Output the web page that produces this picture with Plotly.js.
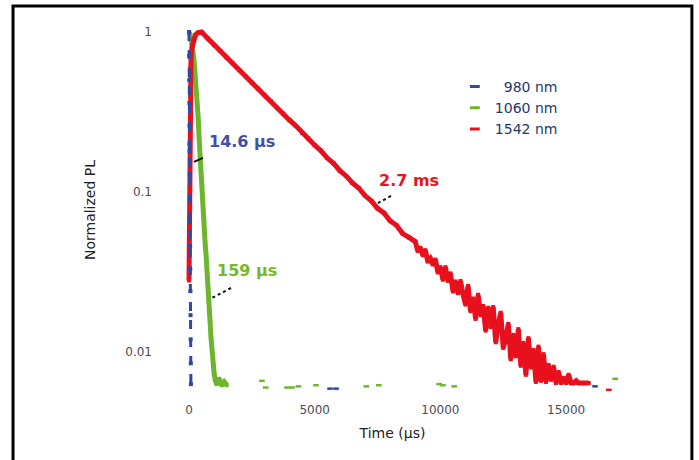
<!DOCTYPE html>
<html>
<head>
<meta charset="utf-8">
<script src="https://cdn.plot.ly/plotly-3.0.1.min.js"></script>
<style>
  html, body { margin: 0; padding: 0; background: #fff; }
  #pl-decay { width: 699px; height: 460px; }
</style>
</head>
<body>
<div id="pl-decay"></div>
<script>
// PL decay curves, time in microseconds, intensity normalized
var seriesNames = ['\u2007980 nm', '1060 nm', '1542 nm'];
var seriesColors = ['#3047a3', '#6cb52d', '#e8101c'];

var blueT = [0, 5, 10, 15, 20, 25, 30, 35, 40, 45, 50, 55, 60, 65, 70, 75];
var blueV = [1, 0.71, 0.5, 0.36, 0.26, 0.18, 0.13, 0.092, 0.065, 0.046, 0.033, 0.024, 0.017, 0.012, 0.0085, 0.0063];
var blueFloorT = [5610, 5850, 16150];
var blueFloorV = [0.0059, 0.0059, 0.0061];

var greenT = [0, 40, 80, 120, 160, 200, 240, 280, 320, 360, 400, 440, 480, 520, 560, 600, 640, 680,
  720, 760, 800, 840, 880, 920, 960, 1000, 1050, 1100, 1200, 1300, 1400, 1500];
var greenV = [1.0, 0.97, 0.9, 0.84, 0.75, 0.66, 0.56, 0.46, 0.37, 0.3, 0.22, 0.16, 0.125, 0.096, 0.08, 0.066, 0.048, 0.04,
  0.029, 0.025, 0.018, 0.016, 0.012, 0.0102, 0.0082, 0.0073, 0.0066, 0.0063, 0.0068, 0.0062, 0.0065, 0.0062];
var greenFloorT = [2900, 3050, 3900, 4100, 4350, 5050, 7050, 7550, 9950, 10100, 10550, 15150, 16950];
var greenFloorV = [0.0066, 0.006, 0.006, 0.006, 0.0061, 0.0062, 0.0061, 0.0062, 0.0063, 0.0062, 0.0061, 0.0064, 0.0068];

var redT = [0, 20, 40, 60, 80, 120, 180, 260, 350, 450,
  500, 750, 1000, 1250, 1500, 1750, 2000, 2250, 2500, 2750, 3000, 3250, 3500, 3750, 4000, 4250, 4500, 4750,
  5000, 5250, 5500, 5750, 6000, 6250, 6500, 6750, 7000, 7250, 7500, 7750, 8000, 8250, 8500, 8750,
  9000, 9100, 9200, 9300, 9400, 9500, 9600, 9700, 9800, 9900,
  10000, 10100, 10200, 10300, 10400, 10500, 10600, 10700, 10800, 10900,
  11000, 11100, 11200, 11300, 11400, 11500, 11600, 11700, 11800, 11900,
  12000, 12100, 12200, 12300, 12400, 12500, 12600, 12700, 12800, 12900,
  13000, 13100, 13200, 13300, 13400, 13500, 13600, 13700, 13800, 13900,
  14000, 14100, 14200, 14300, 14400, 14500, 14600, 14700, 14800, 14900,
  15000, 15100, 15200, 15300, 15400, 15500, 15600, 15700, 15800, 15900];
var redV = [0.028, 0.2, 0.45, 0.6, 0.7, 0.8, 0.9, 0.96, 0.99, 1.0,
  1.0, 0.91, 0.83, 0.76, 0.69, 0.635, 0.578, 0.53, 0.482, 0.443, 0.403, 0.37, 0.337, 0.309, 0.281, 0.259, 0.234, 0.216,
  0.196, 0.181, 0.163, 0.151, 0.136, 0.126, 0.114, 0.106, 0.095, 0.088, 0.079, 0.074, 0.066, 0.062, 0.055, 0.052,
  0.049, 0.0428, 0.0448, 0.0402, 0.0433, 0.0367, 0.0384, 0.0352, 0.0378, 0.0314,
  0.0339, 0.0283, 0.0339, 0.0278, 0.031, 0.0239, 0.0276, 0.0233, 0.0278, 0.0228,
  0.0198, 0.0259, 0.018, 0.0216, 0.0161, 0.0228, 0.017, 0.0194, 0.0136, 0.0189,
  0.0143, 0.0191, 0.0115, 0.0149, 0.0176, 0.0106, 0.0121, 0.015, 0.009, 0.0128,
  0.0094, 0.0139, 0.0082, 0.0114, 0.0072, 0.0122, 0.008, 0.0103, 0.0065, 0.0108,
  0.0066, 0.0097, 0.0065, 0.0083, 0.0067, 0.0081, 0.0064, 0.0075, 0.0064, 0.0069,
  0.0064, 0.0072, 0.0064, 0.0064, 0.0066, 0.0064, 0.0064, 0.0064, 0.0064, 0.0064];
var redFloorT = [16700];
var redFloorV = [0.0058];

var xTicks = [0, 5000, 10000, 15000];
var xTickText = ['0', '5000', '10000', '15000'];
var yTicks = [0.01, 0.1, 1];
var yTickText = ['0.01', '0.1', '1'];

var font = 'DejaVu Sans, Verdana, sans-serif';

function curve(t, v, i, lineWidth, dash) {
  return {
    x: t, y: v, type: 'scatter', mode: 'lines+markers',
    name: seriesNames[i], showlegend: false, hoverinfo: 'x+y',
    line: { color: seriesColors[i], width: lineWidth, dash: dash || 'solid' },
    marker: { color: seriesColors[i], size: 4, symbol: 'square' }
  };
}
function floor(t, v, i) {
  return {
    x: t, y: v, type: 'scatter', mode: 'markers', showlegend: false, hoverinfo: 'x+y',
    marker: { color: seriesColors[i], size: 4, symbol: 'line-ew', line: { color: seriesColors[i], width: 2.5 } }
  };
}
function legendItem(i) {
  return {
    x: [null], y: [null], type: 'scatter', mode: 'markers', name: seriesNames[i],
    marker: { color: seriesColors[i], size: 7, symbol: 'line-ew', line: { color: seriesColors[i], width: 3 } }
  };
}

var data = [
  curve(greenT, greenV, 1, 5),
  floor(greenFloorT, greenFloorV, 1),
  curve(redT, redV, 2, 5),
  floor(redFloorT, redFloorV, 2),
  curve(blueT, blueV, 0, 3, 'dash'),
  floor(blueFloorT, blueFloorV, 0),
  legendItem(0), legendItem(1), legendItem(2)
];

var layout = {
  width: 699,
  height: 460,
  margin: { l: 165, r: 79, t: 28, b: 68 },
  paper_bgcolor: '#fff',
  plot_bgcolor: '#fff',
  font: { family: font, size: 12, color: '#444' },
  xaxis: {
    range: [-955, 17144],
    tickvals: xTicks,
    ticktext: xTickText,
    showgrid: false, zeroline: false, showline: false,
    ticks: '', ticklabelstandoff: 9,
    tickfont: { size: 12, color: '#4a4a55' },
    title: { text: 'Time (μs)', font: { size: 14, color: '#222' }, standoff: 12 }
  },
  yaxis: {
    type: 'log',
    range: [-2.25, 0.025],
    tickvals: yTicks,
    ticktext: yTickText,
    showgrid: false, zeroline: false, showline: false,
    ticks: '', ticklabelstandoff: 12,
    tickfont: { size: 12, color: '#4a4a55' },
    title: { text: 'Normalized PL', font: { size: 14, color: '#222' }, standoff: 26 }
  },
  legend: {
    x: 0.637, y: 0.882, xanchor: 'left', yanchor: 'top',
    bgcolor: 'rgba(0,0,0,0)',
    font: { size: 14, color: '#26386e' }
  },
  annotations: [
    { x: 2108, y: 0.687, xref: 'x', yref: 'paper', xanchor: 'center', yanchor: 'middle',
      text: '<b>14.6 μs</b>', showarrow: false, font: { size: 16, color: '#3f51a5' } },
    { x: 8751, y: 0.580, xref: 'x', yref: 'paper', xanchor: 'center', yanchor: 'middle',
      text: '<b>2.7 ms</b>', showarrow: false, font: { size: 16, color: '#e8141e' } },
    { x: 2307, y: 0.335, xref: 'x', yref: 'paper', xanchor: 'center', yanchor: 'middle',
      text: '<b>159 μs</b>', showarrow: false, font: { size: 16, color: '#76b82a' } }
  ],
  shapes: [
    // frame round the figure
    { type: 'rect', xref: 'paper', yref: 'paper', x0: -0.334, x1: 1.158, y0: -0.22, y1: 1.0604,
      line: { color: '#000', width: 3 } },
    // pointers from labels to curves
    { type: 'line', xref: 'x', yref: 'paper', x0: 557, y0: 0.643, x1: 199, y1: 0.632,
      line: { color: '#111', width: 2 } },
    { type: 'line', xref: 'x', yref: 'paper', x0: 8035, y0: 0.5385, x1: 7518, y1: 0.519,
      line: { color: '#111', width: 2, dash: 'dot' } },
    { type: 'line', xref: 'x', yref: 'paper', x0: 1671, y0: 0.2857, x1: 835, y1: 0.2555,
      line: { color: '#111', width: 2, dash: 'dot' } }
  ]
};

Plotly.newPlot('pl-decay', data, layout, { displayModeBar: false, staticPlot: true });
</script>
</body>
</html>
